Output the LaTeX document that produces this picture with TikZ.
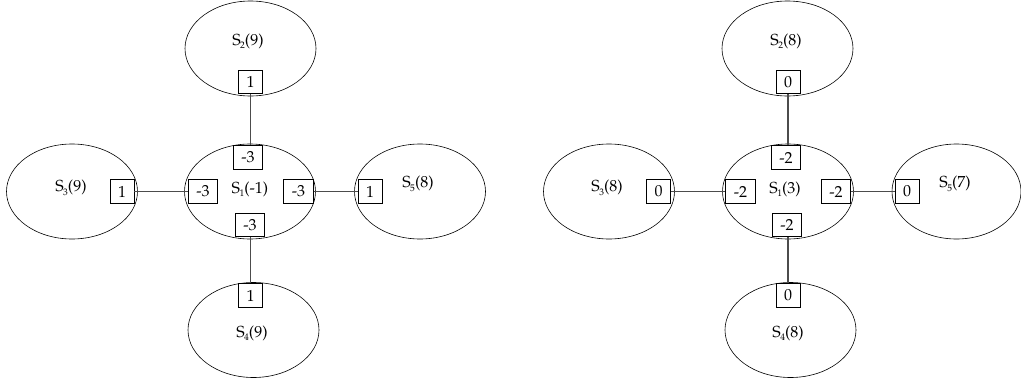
\documentclass[tikz,border=0pt]{standalone}
\usepackage[T1]{fontenc}
\usepackage{mathpazo}
\usetikzlibrary{shapes.geometric}
\tikzset{
  region/.style={draw, ellipse, line width=0.6pt, inner sep=0pt, minimum width=131pt, minimum height=95pt},
  lbl/.style={inner sep=0pt, font=\fontsize{16}{19}\selectfont},
  val/.style={draw, line width=0.8pt, fill=white, inner xsep=8pt, inner ysep=0pt, minimum height=23.5pt, font=\fontsize{16}{19}\selectfont},
  link/.style={draw=black!70, line width=1.1pt}
}
\newcommand{\Sx}[2]{S\kern-0.5pt\raisebox{-3.5pt}{\fontsize{9.5}{10}\selectfont #1}(#2)}
\begin{document}
\begin{tikzpicture}[x=1pt,y=-1pt]
\useasboundingbox (0,0) rectangle (1021,383);
% ---------- left diagram ----------
\node[region] (L2) at (250.5,48.5) {};
\node[region] (L1) at (250,191.5) {};
\node[region] (L3) at (72,191.5) {};
\node[region] (L5) at (420,191.5) {};
\node[region] (L4) at (253.5,330) {};
\node[lbl] (tL2) at (248,41) {\Sx{2}{9}};
\node[lbl] (tL1) at (250,189) {\Sx{1}{-1}};
\node[lbl] (tL3) at (71,188) {\Sx{3}{9}};
\node[lbl] (tL5) at (418,184) {\Sx{5}{8}};
\node[lbl] (tL4) at (252,333) {\Sx{4}{9}};
\node[val] (bL2) at (250.5,82) {1};
\node[val] (bL1t) at (248,157.5) {-3};
\node[val] (bL1l) at (203,191.5) {-3};
\node[val] (bL1r) at (298.5,191.5) {-3};
\node[val] (bL1b) at (250,225) {-3};
\node[val] (bL3) at (122,191.5) {1};
\node[val] (bL5) at (370,191.5) {1};
\node[val] (bL4) at (250.5,295.5) {1};
% ---------- right diagram ----------
\node[region] (R2) at (787.5,48.5) {};
\node[region] (R1) at (788,191.5) {};
\node[region] (R3) at (609,191.5) {};
\node[region, minimum width=129pt] (R5) at (956.5,191.5) {};
\node[region] (R4) at (790.5,330) {};
\node[lbl] (tR2) at (786,41) {\Sx{2}{8}};
\node[lbl] (tR1) at (785,189) {\Sx{1}{3}};
\node[lbl] (tR3) at (607,188) {\Sx{3}{8}};
\node[lbl] (tR5) at (955,184) {\Sx{5}{7}};
\node[lbl] (tR4) at (788,333) {\Sx{4}{8}};
\node[val] (bR2) at (788,82) {0};
\node[val] (bR1t) at (786,157.5) {-2};
\node[val] (bR1l) at (740.5,191.5) {-2};
\node[val] (bR1r) at (836,191.5) {-2};
\node[val] (bR1b) at (787,225) {-2};
\node[val] (bR3) at (658.5,191.5) {0};
\node[val] (bR5) at (907,191.5) {0};
\node[val] (bR4) at (788,295.5) {0};
% ---------- connectors ----------
\draw[link] (bL2.south) -- (bL2.south |- bL1t.north);
\draw[link] (bL1b.south -| bL2.south) -- (bL4.north);
\draw[link] (bL3.east) -- (bL1l.west);
\draw[link] (bL1r.east) -- (bL5.west);
\draw[link] (bR2.south) -- (bR2.south |- bR1t.north);
\draw[link] (bR1b.south -| bR2.south) -- (bR4.north);
\draw[link] (bR3.east) -- (bR1l.west);
\draw[link] (bR1r.east) -- (bR5.west);
\end{tikzpicture}
\end{document}
